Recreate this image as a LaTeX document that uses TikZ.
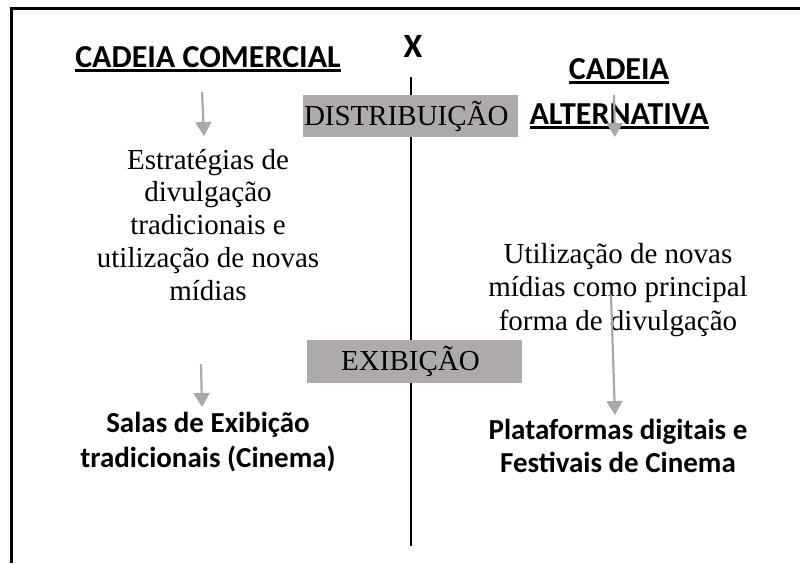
\documentclass[tikz,border=0pt]{standalone}
\usepackage{fontspec}
\setmainfont{Liberation Serif}
\setsansfont{Carlito}
\usetikzlibrary{arrows.meta}

\definecolor{bandgray}{HTML}{AEAAAA}
\definecolor{arrowgray}{HTML}{A9A9A9}
\newcommand{\ulbar}[1]{\leavevmode\setbox0=\hbox{#1}\rlap{\vrule height -2.4pt depth 4.8pt width \wd0}\box0}

\begin{document}
\begin{tikzpicture}[x=1pt,y=-1pt,
		heading/.style={font=\sffamily\bfseries\fontsize{32}{45}\selectfont, inner sep=0pt, anchor=base, align=center},
		bodytext/.style={font=\fontsize{29}{32.7}\selectfont, inner sep=0pt, anchor=base, align=center},
		boldtext/.style={font=\sffamily\bfseries\fontsize{29}{35}\selectfont, inner sep=0pt, anchor=base, align=center},
		band/.style={fill=bandgray, font=\fontsize{29}{33}\selectfont, minimum height=42pt, inner sep=0pt},
		flow/.style={arrowgray, line width=2.2pt, -{Triangle[width=16pt,length=14pt]}}]
			\useasboundingbox (0,0) rectangle (800,563);
			\draw[line width=3pt] (11,563) -- (11,8) -- (800,8);
			\coordinate (axistop) at (411,77);
			\coordinate (axisbot) at (411,546);
			\draw[line width=1.2pt] (axistop) -- (axisbot);
			\node[heading] (comercial) at (208,67) {\ulbar{CADEIA COMERCIAL}};
			\node[heading, font=\sffamily\bfseries\fontsize{34}{40}\selectfont] (versus) at (413,57) {X};
			\node[heading] (alternativa) at (619,124) {\ulbar{CADEIA}\\\ulbar{ALTERNATIVA}};
			\node[band, minimum width=215pt, text width=213pt, align=left] (distribuicao) at (410.5,116) {DISTRIBUIÇÃO};
			\node[band, minimum width=215pt, minimum height=43pt] (exibicao) at (414.5,361.5) {\hspace*{-8pt}EXIBIÇÃO};
			\node[bodytext] (estrategias) at (208,300) {Estratégias de\\divulgação\\tradicionais e\\utilização de novas\\mídias};
			\node[bodytext, font=\fontsize{29}{33.5}\selectfont] (novasmidias) at (618,330) {Utilização de novas\\mídias como principal\\forma de divulgação};
			\node[boldtext] (salas) at (208,467) {Salas de Exibição\\tradicionais (Cinema)};
			\node[boldtext, font=\sffamily\bfseries\fontsize{29}{33.5}\selectfont] (plataformas) at (618,472.5) {Plataformas digitais e\\Festivais de Cinema};
			\coordinate (c1) at (202,92);
			\coordinate (c2) at (204,136);
			\coordinate (c3) at (201,364);
			\coordinate (c4) at (202,407);
			\coordinate (a1) at (614,95);
			\coordinate (a2) at (615,137);
			\coordinate (a3) at (611,295);
			\coordinate (a4) at (615,415);
			\draw[flow] (c1) -- (c2);
			\draw[flow] (c3) -- (c4);
			\draw[flow] (a1) -- (a2);
			\draw[flow] (a3) -- (a4);
		\end{tikzpicture}
\end{document}
